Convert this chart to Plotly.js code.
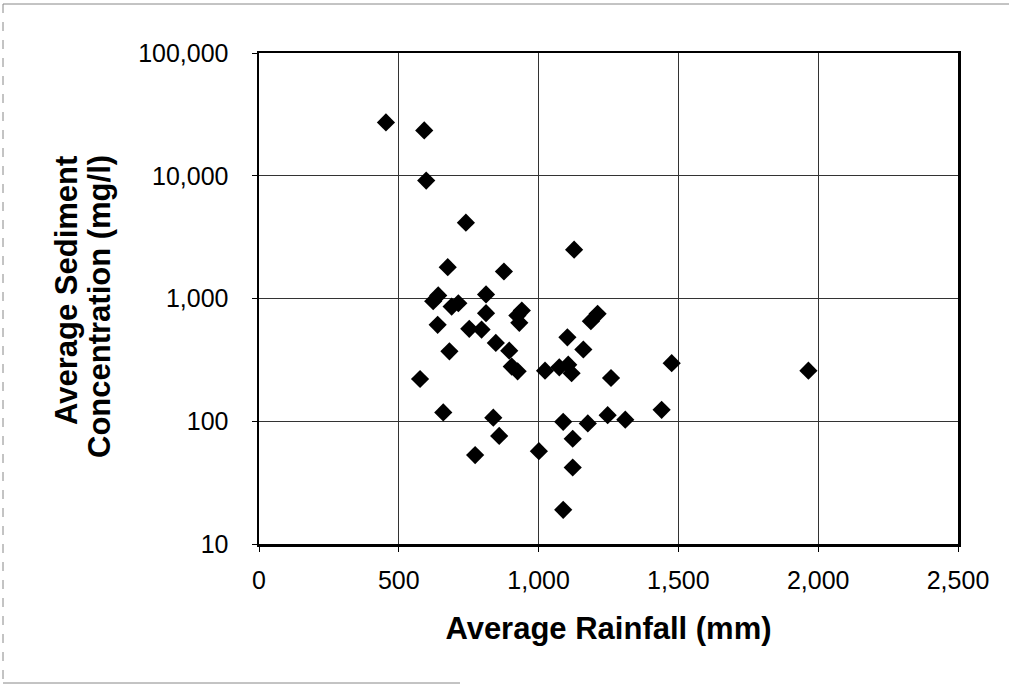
<!DOCTYPE html>
<html>
<head>
<meta charset="utf-8">
<script src="https://cdn.plot.ly/plotly-3.0.1.min.js"></script>
<style>
html,body{margin:0;padding:0;background:#fff;}
#chart{width:1009px;height:687px;}
</style>
</head>
<body>
<div id="chart"></div>
<script>
const rainfall = [454, 591, 598, 740, 675, 876, 1127, 641, 623, 689, 713, 812, 812, 639, 752, 796, 940, 924, 931, 847, 895, 681, 904, 925, 1023, 1074, 1106, 1118, 1103, 1160, 1187, 1211, 1259, 576, 659, 838, 859, 773, 1001, 1088, 1122, 1122, 1088, 1176, 1247, 1310, 1440, 1476, 1965];
const sediment = [27200, 23400, 9140, 4150, 1800, 1660, 2500, 1060, 950, 860, 915, 1080, 760, 610, 566, 558, 798, 727, 634, 435, 376, 371, 279, 255, 258, 275, 289, 246, 483, 384, 653, 750, 225, 221, 118, 107, 76, 53, 57, 99, 72, 42, 19, 96, 112, 103, 124, 297, 258];
const xTickVals = [0, 500, 1000, 1500, 2000, 2500];
const xTickText = ["0", "500", "1,000", "1,500", "2,000", "2,500"];
const yTickVals = [10, 100, 1000, 10000, 100000];
const yTickText = ["10", "100", "1,000", "10,000", "100,000"];
const xTitle = 'Average Rainfall (mm)';
const yTitleLines = ['Average Sediment', 'Concentration (mg/l)'];

const trace = {
  x: rainfall,
  y: sediment,
  type: 'scatter',
  mode: 'markers',
  marker: {symbol: 'diamond', size: 14, color: '#000'},
  hoverinfo: 'x+y'
};

const W = 1009, H = 687;
const L = 259, R = 958, T = 53, B = 544;
const px = v => (v - L) / (R - L);
const py = v => (B - v) / (B - T);

const layout = {
  width: W, height: H,
  margin: {l: L, r: W - R, t: T, b: H - B, pad: 0},
  paper_bgcolor: '#fff',
  plot_bgcolor: '#fff',
  showlegend: false,
  font: {family: 'Liberation Sans, Arial, sans-serif', color: '#000', size: 25},
  xaxis: {
    range: [0, 2500],
    tickvals: xTickVals,
    ticktext: xTickText,
    ticks: 'outside', ticklen: 5, tickcolor: '#000', tickwidth: 1,
    ticklabelstandoff: 7,
    showline: true, linecolor: '#000', linewidth: 2.5, mirror: true,
    showgrid: true, gridcolor: '#333', gridwidth: 1,
    zeroline: false,
    tickfont: {size: 25},
    title: {text: xTitle, font: {size: 31, weight: 'bold'}, standoff: 25}
  },
  yaxis: {
    type: 'log',
    range: [1, 5],
    tickvals: yTickVals,
    ticktext: yTickText,
    ticks: 'outside', ticklen: 5, tickcolor: '#000', tickwidth: 1,
    ticklabelstandoff: 18,
    showline: true, linecolor: '#000', linewidth: 2.5, mirror: true,
    showgrid: true, gridcolor: '#333', gridwidth: 1,
    zeroline: false,
    tickfont: {size: 25}
  },
  annotations: [
    {text: yTitleLines[0], xref: 'paper', yref: 'paper', x: px(66), y: py(291), textangle: -90,
     showarrow: false, xanchor: 'center', yanchor: 'middle', font: {size: 31, weight: 'bold'}},
    {text: yTitleLines[1], xref: 'paper', yref: 'paper', x: px(99), y: py(307), textangle: -90,
     showarrow: false, xanchor: 'center', yanchor: 'middle', font: {size: 31, weight: 'bold'}}
  ],
  shapes: [
    {type: 'line', xref: 'paper', yref: 'paper', x0: px(3), x1: px(1009), y0: py(4), y1: py(4), line: {color: '#888', width: 1}},
    {type: 'line', xref: 'paper', yref: 'paper', x0: px(3), x1: px(3), y0: py(4), y1: py(683), line: {color: '#888', width: 1, dash: 'dash'}},
    {type: 'line', xref: 'paper', yref: 'paper', x0: px(3), x1: px(460), y0: py(683), y1: py(683), line: {color: '#888', width: 1}}
  ]
};

Plotly.newPlot('chart', [trace], layout, {displayModeBar: false, staticPlot: true});
</script>
</body>
</html>
